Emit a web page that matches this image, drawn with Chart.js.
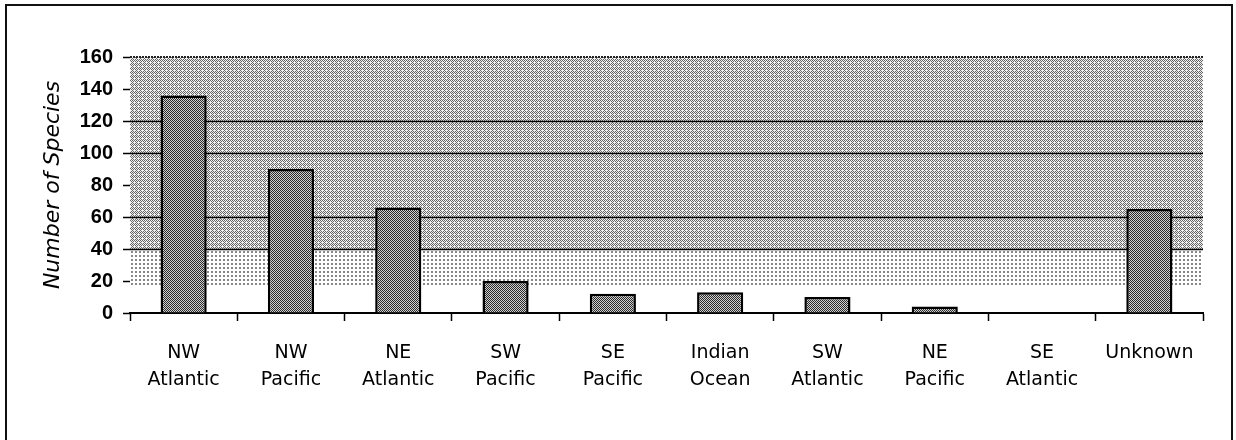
<!DOCTYPE html>
<html>
<head>
<meta charset="utf-8">
<script src="https://cdn.jsdelivr.net/npm/chart.js@4"></script>
<style>
  html, body { margin: 0; padding: 0; background: #fff; }
  #wrap { width: 1236px; height: 440px; position: relative; }
</style>
</head>
<body>
<div id="wrap"><canvas id="c" width="1236" height="440"></canvas></div>
<script>
// ---- data ----
const categories = [
  ['NW', 'Atlantic'], ['NW', 'Pacific'], ['NE', 'Atlantic'], ['SW', 'Pacific'],
  ['SE', 'Pacific'], ['Indian', 'Ocean'], ['SW', 'Atlantic'], ['NE', 'Pacific'],
  ['SE', 'Atlantic'], ['Unknown']
];
const speciesCounts = [136, 90, 66, 20, 12, 13, 10, 4, 0, 65];
const yTicks = [0, 20, 40, 60, 80, 100, 120, 140, 160];
const yTitle = 'Number of Species';

// ---- patterns ----
function makePattern(size, fg, bg, fn) {
  const c = document.createElement('canvas');
  c.width = size; c.height = size;
  const g = c.getContext('2d');
  g.fillStyle = bg; g.fillRect(0, 0, size, size);
  g.fillStyle = fg;
  for (let y = 0; y < size; y++) for (let x = 0; x < size; x++) if (fn(x, y)) g.fillRect(x, y, 1, 1);
  return g.createPattern(c, 'repeat');
}
const ctx = document.getElementById('c').getContext('2d');
const barPattern = makePattern(4, '#2a2a2a', '#d0d0d0', (x, y) => ((x + y) % 2 === 0));
const denseBg = makePattern(4, '#666', '#f0f0f0', (x, y) => ((x + y) % 2 === 0) && !(x === 2 && y === 2));
const lightBg = makePattern(4, '#888', '#ffffff', (x, y) => (x % 3 === 0 && y % 3 === 0));

const bandPlugin = {
  id: 'bands',
  beforeDatasetsDraw(chart) {
    const { ctx, chartArea: a, scales: { y } } = chart;
    ctx.save();
    const y160 = y.getPixelForValue(160), y40 = y.getPixelForValue(40), y17 = y.getPixelForValue(17);
    ctx.fillStyle = denseBg;
    ctx.fillRect(a.left, y160, a.right - a.left, y40 - y160);
    ctx.fillStyle = lightBg;
    ctx.fillRect(a.left, y40, a.right - a.left, y17 - y40);
    ctx.strokeStyle = '#000';
    ctx.lineWidth = 1.5;
    [40, 60, 100, 120].forEach(v => {
      const p = Math.round(y.getPixelForValue(v)) + 0.5;
      ctx.beginPath(); ctx.moveTo(a.left, p); ctx.lineTo(a.right, p); ctx.stroke();
    });
    ctx.setLineDash([2, 1]);
    ctx.lineWidth = 2;
    ctx.strokeStyle = '#222';
    ctx.beginPath(); ctx.moveTo(a.left, y160); ctx.lineTo(a.right, y160); ctx.stroke();
    ctx.restore();
  },
  afterDraw(chart) {
    const { ctx } = chart;
    ctx.save();
    ctx.strokeStyle = '#111';
    ctx.lineWidth = 2;
    ctx.strokeRect(6, 5, 1226, 460);
    ctx.restore();
  }
};

new Chart(ctx, {
  type: 'bar',
  data: {
    labels: categories,
    datasets: [{
      data: speciesCounts,
      backgroundColor: barPattern,
      borderColor: '#000',
      borderWidth: 2.5,
      borderSkipped: 'start',
      barPercentage: 0.43,
      categoryPercentage: 1.0
    }]
  },
  options: {
    responsive: false,
    animation: false,
    devicePixelRatio: 1,
    layout: { padding: { left: 0, top: 57, right: 33, bottom: 0 } },
    plugins: { legend: { display: false }, tooltip: { enabled: false } },
    scales: {
      x: {
        grid: { offset: true, color: 'transparent', tickColor: '#000', tickLength: 8, tickWidth: 1.5, drawOnChartArea: false },
        border: { display: true, color: '#000', width: 2 },
        ticks: {
          color: '#000', padding: 19, maxRotation: 0, autoSkip: false,
          font: { family: 'DejaVu Sans', size: 19, lineHeight: 1.42 }
        },
        afterFit(scale) { scale.height = 127; }
      },
      y: {
        min: 0, max: 160,
        afterBuildTicks(scale) { scale.ticks = yTicks.map(v => ({ value: v })); },
        grid: {
          color: 'transparent', drawOnChartArea: false,
          tickColor: '#000', tickLength: 7, tickWidth: 1.5
        },
        border: { display: false },
        ticks: {
          color: '#000', padding: 10,
          font: { family: 'Liberation Sans', size: 20, weight: 'bold' }
        },
        title: {
          display: true, text: yTitle, color: '#000',
          font: { family: 'DejaVu Sans', size: 22, style: 'italic' },
          padding: { top: 40, bottom: 0 }
        },
        afterFit(scale) { scale.width = 130; }
      }
    }
  },
  plugins: [bandPlugin]
});
</script>
</body>
</html>
